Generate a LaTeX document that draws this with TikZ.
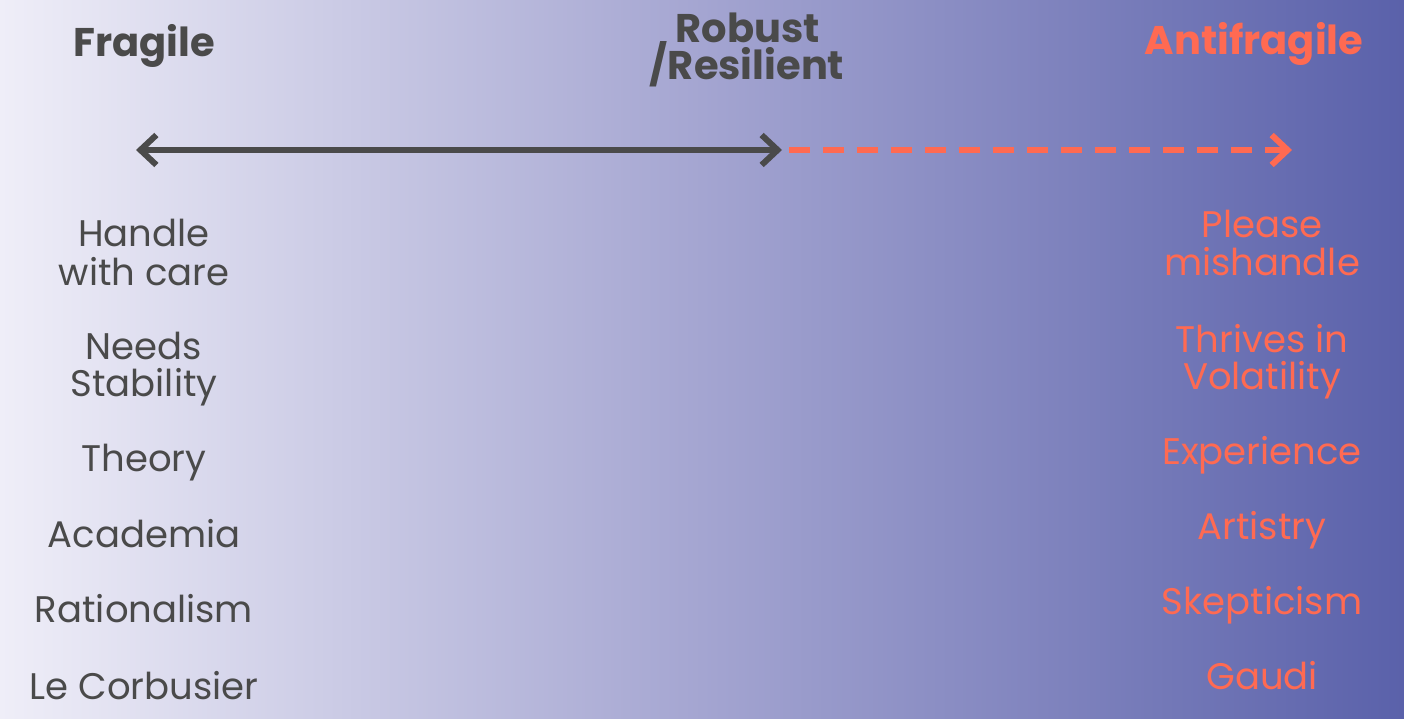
\documentclass[tikz,border=0pt]{standalone}
\usepackage{fontspec}
\setmainfont{Poppins}
\usetikzlibrary{arrows.meta}
\definecolor{bgleft}{HTML}{EFEEF8}
\definecolor{bgmid}{HTML}{A4A5D1}
\definecolor{bgright}{HTML}{5A61AA}
\definecolor{ink}{HTML}{4A4A4A}
\definecolor{accent}{HTML}{FF6A52}
\tikzset{
  title/.style={font=\fontsize{40}{40}\selectfont\bfseries, anchor=base, inner sep=0pt},
  itemtext/.style={font=\fontsize{37}{37}\selectfont, anchor=base, inner sep=0pt, yshift=-2pt},
  fragtext/.style={itemtext, text=ink},
  antitext/.style={itemtext, text=accent},
  barb/.tip={Straight Barb[length=16pt, width=30pt, line width=6pt]},
}
\begin{document}
\begin{tikzpicture}[x=1pt, y=-1pt]
  % backdrop with a horizontal colour ramp
  \useasboundingbox (0,0) rectangle (1404,719);
  \shade[left color=bgleft, right color=bgright, middle color=bgmid]
    (0,0) rectangle (1404,719);

  % column headings
  \node[title, text=ink] (fragile) at (144,57) {Fragile};
  \node[title, text=ink] (robust) at (748,43) {Robust};
  \node[title, text=ink] (resilient) at (747,80) {/Resilient};
  \node[title, text=accent] (antifragile) at (1254,55) {Antifragile};

  % scale arrows
  \coordinate (leftend) at (136,150);
  \coordinate (mid) at (782,150);
  \coordinate (rightend) at (1292,150);
  \draw[ink, line width=6pt, barb-barb] (leftend) -- (mid);
  \draw[accent, line width=6pt, dash pattern=on 21pt off 13pt, -barb]
    ([xshift=7pt]mid) -- (rightend);

  % fragile side
  \node[fragtext] (f1a) at (144,245) {Handle};
  \node[fragtext] (f1b) at (144,283) {with care};
  \node[fragtext] (f2a) at (144,357) {Needs};
  \node[fragtext] (f2b) at (144,394) {Stability};
  \node[fragtext] (f3) at (144,469) {Theory};
  \node[fragtext] (f4) at (144,545) {Academia};
  \node[fragtext] (f5) at (144,620) {Rationalism};
  \node[fragtext] (f6) at (144,697) {Le Corbusier};

  % antifragile side
  \node[antitext] (a1a) at (1262,236) {Please};
  \node[antitext] (a1b) at (1262,273) {mishandle};
  \node[antitext] (a2a) at (1262,350) {Thrives in};
  \node[antitext] (a2b) at (1262,387) {Volatility};
  \node[antitext] (a3) at (1262,462) {Experience};
  \node[antitext] (a4) at (1262,537) {Artistry};
  \node[antitext] (a5) at (1262,612) {Skepticism};
  \node[antitext] (a6) at (1262,687) {Gaudi};
\end{tikzpicture}
\end{document}
